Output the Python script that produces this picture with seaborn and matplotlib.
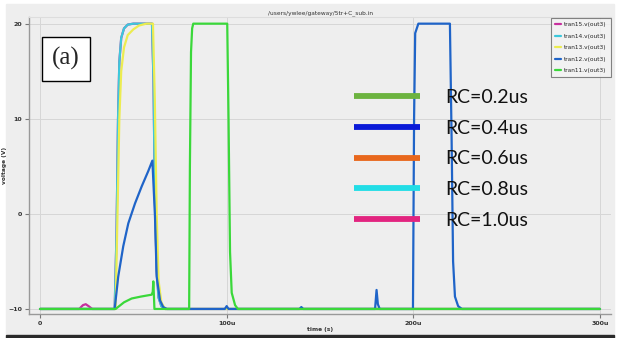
import matplotlib
matplotlib.use("Agg")
import matplotlib.pyplot as plt
from matplotlib.lines import Line2D
from matplotlib.patches import Rectangle
from matplotlib.ticker import AutoMinorLocator
import seaborn as sns

# waveform data (time in us, voltage in V)
t15 = [0, 21, 23, 24.5, 26, 28, 40, 41, 41.8, 42.5, 43.5, 45, 47, 50, 60, 60.8, 61.5, 62.5, 63.5, 65, 67, 300]
v15 = [-10, -10, -9.6, -9.5, -9.7, -10, -10, -2, 10, 16, 18.5, 19.5, 19.9, 20, 20, 14, 2, -6, -8.8, -9.7, -10, -10]

t14 = [0, 40, 41, 41.8, 42.5, 43.5, 45, 47, 50, 60, 60.8, 61.5, 62.5, 63.5, 65, 67, 300]
v14 = [-10, -10, -2, 10, 16, 18.5, 19.5, 19.9, 20, 20, 14, 2, -6, -8.8, -9.7, -10, -10]

t13 = [0, 40.5, 41.5, 42.5, 43.5, 45, 47, 50, 53, 57, 60.5, 61.5, 62.5, 63.5, 65, 67, 300]
v13 = [-10, -10, 0, 10, 15, 17.5, 18.8, 19.4, 19.8, 20, 20, 12, 0, -7, -9.3, -10, -10]

t12 = [0, 40, 41.9, 44.6, 47.3, 50.9, 54.5, 58, 60.2, 61.6, 62.5, 64.3, 66, 68, 99, 100, 101,
       139, 140, 141, 179.5, 180.3, 181, 182, 199.8, 200.4, 201, 202.7, 219.6, 220.5, 221.3,
       222.3, 224, 226, 300]
v12 = [-10, -10, -6.6, -3.4, -1.0, 1.1, 2.9, 4.5, 5.6, -0.3, -6.6, -9.1, -9.8, -10, -10, -9.7, -10,
       -10, -9.8, -10, -10, -8.0, -9.5, -10, -10, 10, 19, 20, 20, 8, -5,
       -8.7, -9.7, -10, -10]

t11 = [0, 40.5, 45, 49.1, 54, 59.8, 60.4, 60.7, 61, 61.3, 79.9, 80.3, 80.9, 81.5, 82.1,
       100.3, 101, 101.8, 102.7, 104.5, 106, 300]
v11 = [-10, -10, -9.3, -8.9, -8.7, -8.5, -8.2, -7.1, -8.5, -10, -10, 5, 17, 19.5, 20,
       20, 10, -4, -8.3, -9.6, -10, -10]

names = ["tran15.v(out3)", "tran14.v(out3)", "tran13.v(out3)", "tran12.v(out3)", "tran11.v(out3)"]
colors = ["#c8309e", "#3cc8dc", "#ecec50", "#1f64c8", "#3ad83a"]
series = [(t15, v15), (t14, v14), (t13, v13), (t12, v12), (t11, v11)]

x_ticks = [0, 100, 200, 300]
x_labels = ["0", "100u", "200u", "300u"]
y_ticks = [-10, 0, 10, 20]

rc_labels = ["RC=0.2us", "RC=0.4us", "RC=0.6us", "RC=0.8us", "RC=1.0us"]
rc_colors = ["#6cb33f", "#0a1ad8", "#e8671c", "#22dde6", "#e2247f"]

sns.set_style("whitegrid")
plt.rcParams["font.family"] = ["DejaVu Sans"]

fig = plt.figure(figsize=(6.26, 3.38), dpi=100)
fig.patch.set_facecolor("white")
# screenshot panel + dark bottom edge
fig.patches.append(Rectangle((6 / 626, 4 / 338), 608 / 626, 330 / 338,
                             transform=fig.transFigure, color="#eeeeee", zorder=-10))
fig.patches.append(Rectangle((6 / 626, 0), 608 / 626, 3 / 338,
                             transform=fig.transFigure, color="#2a2a2a", zorder=-10))

ax = fig.add_axes([29 / 626, 1 - 314 / 338, 582 / 626, 297 / 338])
ax.set_facecolor("#eeeeee")

for (t, v), name, c in zip(series, names, colors):
    sns.lineplot(x=t, y=v, ax=ax, color=c, lw=1.6, label=name, sort=False, estimator=None)

ax.set_xlim(-5.9, 305.9)
ax.set_ylim(-10.53, 20.7)
ax.set_xticks(x_ticks)
ax.set_xticklabels(x_labels)
ax.set_yticks(y_ticks)
ax.xaxis.set_minor_locator(AutoMinorLocator(5))
ax.yaxis.set_minor_locator(AutoMinorLocator(3))
ax.tick_params(axis="both", which="major", labelsize=4.5, length=3, width=0.8,
               colors="#777777", labelcolor="#333333", pad=2, direction="out")
ax.tick_params(axis="both", which="minor", length=2, width=0.6, colors="#999999", direction="out")
ax.tick_params(left=True, bottom=True)
for lab in ax.get_xticklabels() + ax.get_yticklabels():
    lab.set_fontweight("bold")
ax.grid(True, which="major", color="#d6d6d6", lw=0.7)

for s in ["left", "bottom"]:
    ax.spines[s].set_color("#999999")
    ax.spines[s].set_linewidth(1.0)
ax.spines["top"].set_color("#dddddd")
ax.spines["right"].set_visible(False)

ax.set_title("/users/ywlee/gateway/5tr+C_sub.in", fontsize=4.2, pad=2, color="#333333")
ax.set_xlabel("time (s)", fontsize=4.2, labelpad=1, color="#333333", fontweight="bold")
ax.set_ylabel("voltage (V)", fontsize=4.2, labelpad=1, color="#333333", fontweight="bold")

leg1 = ax.legend(loc="upper right", bbox_to_anchor=(1.0, 0.997), fontsize=4.2,
                 handlelength=1.1, handletextpad=0.5, labelspacing=1.1,
                 borderaxespad=0, borderpad=0.7, frameon=True, fancybox=False)
leg1.get_frame().set_edgecolor("#666666")
leg1.get_frame().set_facecolor("#f4f4f4")
leg1.get_frame().set_linewidth(0.8)
for h in leg1.get_lines():
    h.set_linewidth(1.6)
ax.add_artist(leg1)

rc_handles = [Line2D([0], [0], color=c, lw=4.2, solid_capstyle="butt") for c in rc_colors]
leg2 = ax.legend(rc_handles, rc_labels, loc="upper left", bbox_to_anchor=(0.558, 0.758),
                 frameon=False, borderpad=0, borderaxespad=0, handlelength=3.4,
                 handletextpad=1.3, labelspacing=0.71,
                 prop={"family": "Lato", "size": 14})
for txt in leg2.get_texts():
    txt.set_color("#111111")

ax.text(0.0636, 0.859, "(a)", transform=ax.transAxes, ha="center", va="center",
        fontsize=18, family="Liberation Serif",
        bbox=dict(boxstyle="square,pad=0.42", facecolor="white", edgecolor="black", lw=1))

fig.savefig("out.png", dpi=100, facecolor=fig.get_facecolor())
